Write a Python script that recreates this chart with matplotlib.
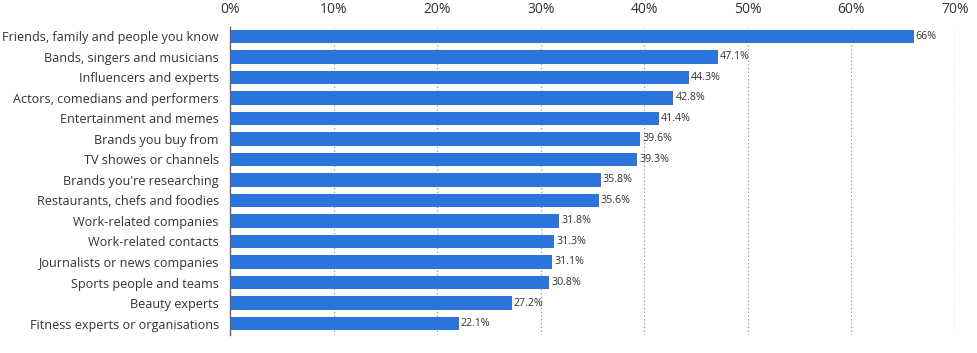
import matplotlib.pyplot as plt
import numpy as np

categories = [
    "Friends, family and people you know",
    "Bands, singers and musicians",
    "Influencers and experts",
    "Actors, comedians and performers",
    "Entertainment and memes",
    "Brands you buy from",
    "TV showes or channels",
    "Brands you're researching",
    "Restaurants, chefs and foodies",
    "Work-related companies",
    "Work-related contacts",
    "Journalists or news companies",
    "Sports people and teams",
    "Beauty experts",
    "Fitness experts or organisations",
]
values = [66, 47.1, 44.3, 42.8, 41.4, 39.6, 39.3, 35.8, 35.6, 31.8, 31.3, 31.1, 30.8, 27.2, 22.1]
value_labels = ["66%", "47.1%", "44.3%", "42.8%", "41.4%", "39.6%", "39.3%", "35.8%",
                "35.6%", "31.8%", "31.3%", "31.1%", "30.8%", "27.2%", "22.1%"]
ticks = [0, 10, 20, 30, 40, 50, 60, 70]

plt.rcParams["font.family"] = ["Open Sans", "DejaVu Sans"]

fig = plt.figure(figsize=(9.78, 3.53), dpi=100)
ax = fig.add_axes([230 / 978, 18 / 353, 725 / 978, 308 / 353])

y = np.arange(len(categories))
ax.barh(y, values, height=0.64, color="#2a74db", zorder=3)

for yi, v, lab in zip(y, values, value_labels):
    ax.text(v + 0.2, yi, lab, va="center", ha="left", fontsize=7.7, color="#333333", zorder=4)

ax.set_xlim(0, 70)
ax.set_ylim(14.56, -0.46)
ax.set_yticks(y)
ax.set_yticklabels(categories, fontsize=9.1, color="#333333")
ax.set_xticks(ticks)
ax.set_xticklabels([f"{t}%" for t in ticks], fontsize=10, color="#333333")
ax.xaxis.tick_top()
ax.tick_params(axis="both", length=0)
ax.tick_params(axis="x", pad=7)
ax.tick_params(axis="y", pad=8)

for t in ticks[1:]:
    ax.axvline(t, color="#555555" if t == 70 else "#999999", linestyle=(0, (1, 2)),
               linewidth=0.9, zorder=1)

for s in ["top", "right", "bottom"]:
    ax.spines[s].set_visible(False)
ax.spines["left"].set_color("#666666")
ax.spines["left"].set_linewidth(1)
ax.spines["left"].set_zorder(5)

fig.savefig("out.png", dpi=100)
plt.close(fig)
